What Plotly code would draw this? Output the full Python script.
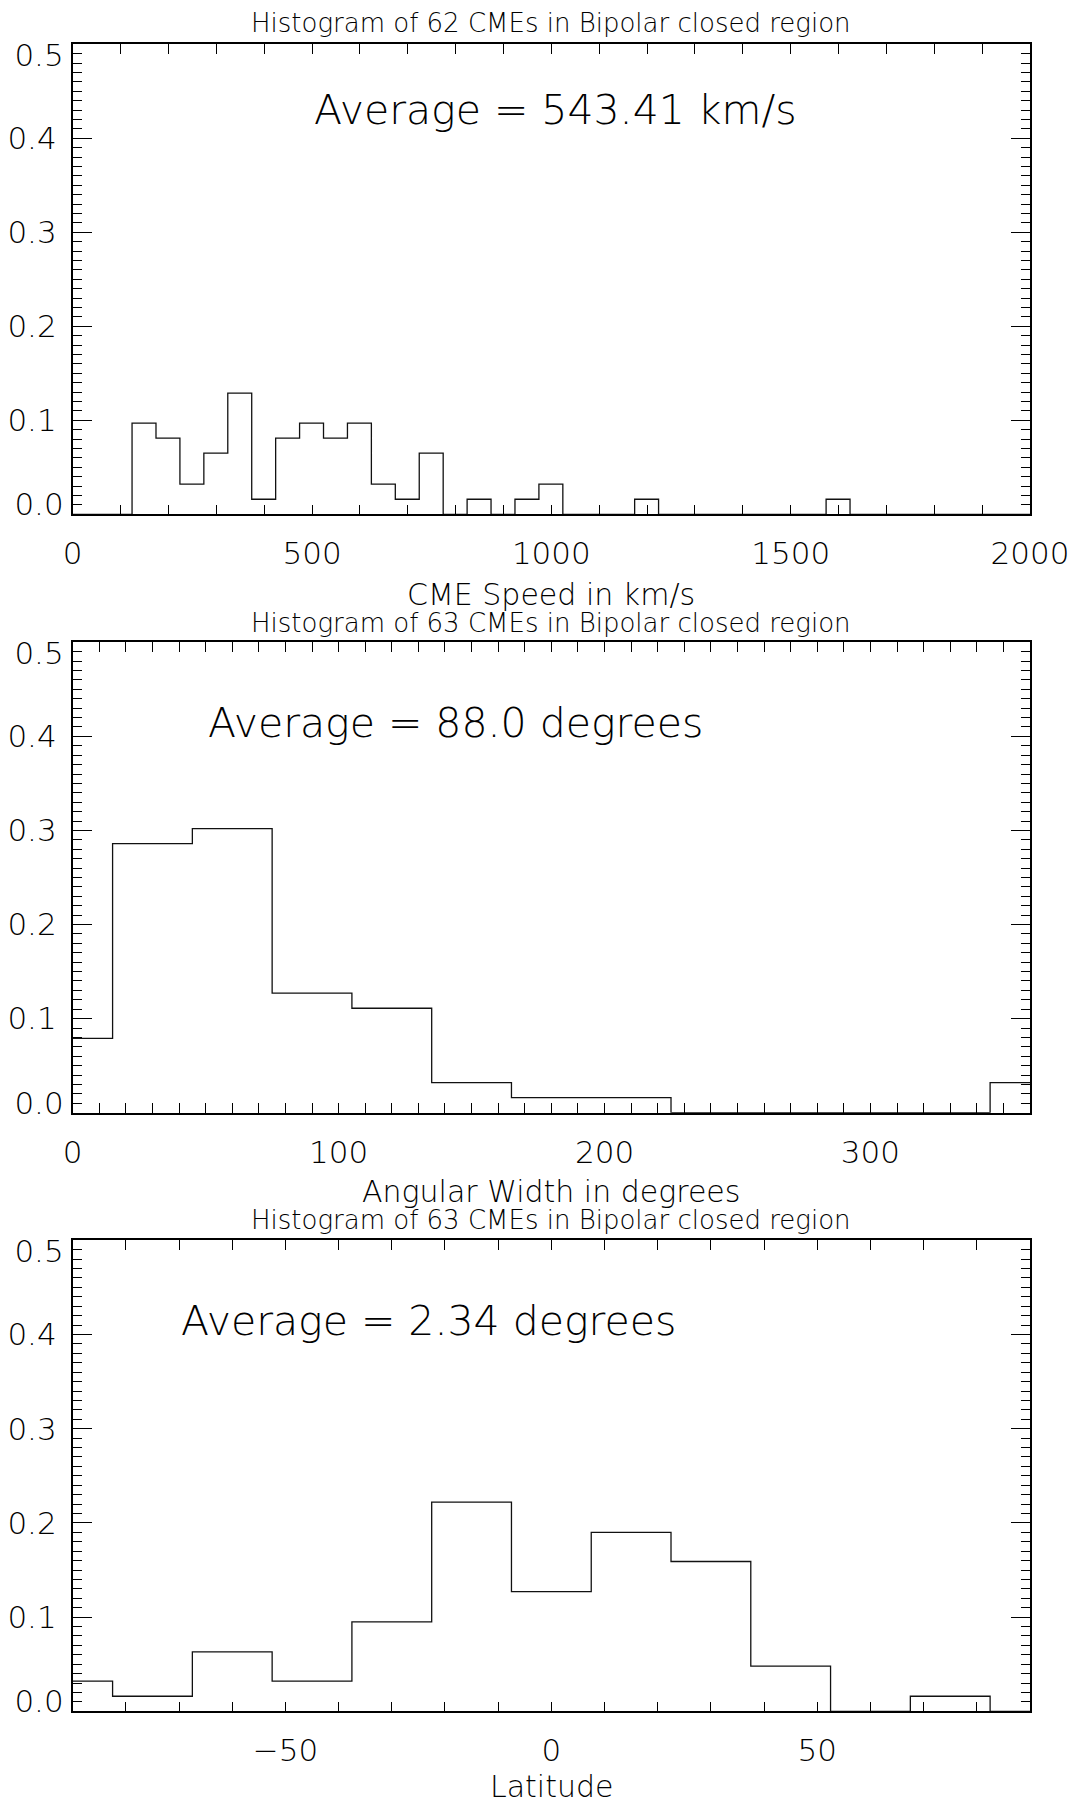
import plotly.graph_objects as go

W, H = 1076, 1806

# ---------------- data ----------------
# Panel 1: CME speed histogram (fraction of events per 50 km/s bin)
speed_bin_start = 124.0
speed_bin_width = 50.0
speed_frac = [0.097, 0.081, 0.032, 0.065, 0.129, 0.016, 0.081, 0.097, 0.081, 0.097,
              0.032, 0.016, 0.065, 0.0, 0.016, 0.0, 0.016, 0.032, 0.0, 0.0,
              0.0, 0.016, 0.0, 0.0, 0.0, 0.0, 0.0, 0.0, 0.0, 0.016]
speed_xrange = [0, 2000]
speed_xticks = [0, 500, 1000, 1500, 2000]
speed_minor = 100
speed_title = "Histogram of 62 CMEs in Bipolar closed region"
speed_xlabel = "CME Speed in km/s"
speed_avg = "Average = 543.41 km/s"
speed_avg_pos = [500, 0.430]

# Panel 2: angular width histogram (30 degree bins)
width_bin_start = -15.0
width_bin_width = 30.0
width_frac = [0.079, 0.286, 0.302, 0.127, 0.111, 0.032, 0.016, 0.016,
              0.0, 0.0, 0.0, 0.0, 0.032]
width_xrange = [0, 360]
width_xticks = [0, 100, 200, 300]
width_minor = 10
width_title = "Histogram of 63 CMEs in Bipolar closed region"
width_xlabel = "Angular Width in degrees"
width_avg = "Average = 88.0 degrees"
width_avg_pos = [50, 0.414]

# Panel 3: latitude histogram (15 degree bins)
lat_bin_start = -97.5
lat_bin_width = 15.0
lat_frac = [0.032, 0.016, 0.063, 0.032, 0.095, 0.222, 0.127, 0.190, 0.159,
            0.048, 0.0, 0.016, 0.0]
lat_xrange = [-90, 90]
lat_xticks = [-50, 0, 50]
lat_minor = 10
lat_title = "Histogram of 63 CMEs in Bipolar closed region"
lat_xlabel = "Latitude"
lat_avg = "Average = 2.34 degrees"
lat_avg_pos = [-70, 0.414]

y_range = [0, 0.5]
y_inner_ticks = [0.1, 0.2, 0.3, 0.4]

# ---------------- layout geometry ----------------
FONT = "DejaVu Sans"
X_DOM = [72.7 / W, 1030.0 / W]
panel_px = [(44.3, 514.3), (642.3, 1112.7), (1240.3, 1711.3)]   # (top, bottom) in px
title_px = [23, 623, 1220]
xlabel_px = [595, 1191, 1786]


def ydom(top, bot):
    return [1 - bot / H, 1 - top / H]


def step_xy(start, width, frac, xr):
    edges = [start + i * width for i in range(len(frac) + 1)]
    xs, ys = [], []
    if start > xr[0]:
        xs.append(xr[0]); ys.append(0.0)
    xs += edges
    ys += list(frac) + [0.0]
    if edges[-1] < xr[1]:
        xs.append(xr[1]); ys.append(0.0)
    return xs, ys


panels = [
    (speed_bin_start, speed_bin_width, speed_frac, speed_xrange, speed_xticks, speed_minor,
     speed_title, speed_xlabel, speed_avg, speed_avg_pos),
    (width_bin_start, width_bin_width, width_frac, width_xrange, width_xticks, width_minor,
     width_title, width_xlabel, width_avg, width_avg_pos),
    (lat_bin_start, lat_bin_width, lat_frac, lat_xrange, lat_xticks, lat_minor,
     lat_title, lat_xlabel, lat_avg, lat_avg_pos),
]

fig = go.Figure()
layout = dict(
    width=W, height=H,
    margin=dict(l=0, r=0, t=0, b=0, pad=0),
    paper_bgcolor="white", plot_bgcolor="white",
    showlegend=False,
    font=dict(family=FONT, color="black", size=30, weight=200),
)
annotations = []

TICKFONT = dict(family=FONT, size=31, color="black", weight=200)

for i, (bs, bw, fr, xr, xt, xminor, title, xlabel, avg, avgpos) in enumerate(panels):
    n = i + 1
    xa = "x" if n == 1 else f"x{n}"
    ya = "y" if n == 1 else f"y{n}"
    xs, ys = step_xy(bs, bw, fr, xr)
    fig.add_trace(go.Scatter(x=xs, y=ys, mode="lines", line_shape="hv",
                             line=dict(color="#111", width=1.3),
                             xaxis=xa, yaxis=ya, hoverinfo="skip"))
    top, bot = panel_px[i]
    dom = ydom(top, bot)
    layout[f"xaxis{'' if n == 1 else n}"] = dict(
        domain=X_DOM, anchor=ya, range=xr, automargin=False,
        tickvals=xt, ticks="inside", ticklen=10, tickwidth=1.2, tickcolor="black",
        minor=dict(dtick=xminor, tick0=0, ticks="inside", ticklen=4.5,
                   tickwidth=1.2, tickcolor="black", showgrid=False),
        showline=True, linecolor="black", linewidth=1.6, mirror="allticks",
        showgrid=False, zeroline=False, tickfont=TICKFONT, ticklabelstandoff=11,
        fixedrange=True,
    )
    layout[f"yaxis{'' if n == 1 else n}"] = dict(
        domain=dom, anchor=xa, range=y_range, automargin=False,
        tickvals=y_inner_ticks, tickformat=".1f",
        ticks="inside", ticklen=19, tickwidth=1.2, tickcolor="black",
        minor=dict(dtick=0.01, tick0=0, ticks="inside", ticklen=9,
                   tickwidth=1.2, tickcolor="black", showgrid=False),
        showline=True, linecolor="black", linewidth=1.6, mirror="allticks",
        showgrid=False, zeroline=False, tickfont=TICKFONT, ticklabelstandoff=8,
        fixedrange=True,
    )
    # end labels shifted inward (0.0 sits just above its tick, 0.5 just below)
    for k, (val, shift) in enumerate([(y_range[0], -10), (y_range[1], 11)]):
        idx = 3 + 2 * i + k + 1
        layout[f"yaxis{idx}"] = dict(
            overlaying=ya, anchor=xa, side="left", range=y_range, automargin=False,
            tickvals=[val], tickformat=".1f", ticks="", showline=False,
            showgrid=False, zeroline=False, ticklabelshift=shift,
            tickfont=TICKFONT, ticklabelstandoff=8, fixedrange=True,
        )
        fig.add_trace(go.Scatter(x=[xr[0]], y=[val], mode="markers",
                                 marker=dict(opacity=0), xaxis=xa, yaxis=f"y{idx}",
                                 hoverinfo="skip"))

    annotations.append(dict(text=title, xref="paper", yref="paper",
                            x=(X_DOM[0] + X_DOM[1]) / 2, y=1 - title_px[i] / H,
                            xanchor="center", yanchor="middle", showarrow=False,
                            borderpad=0,
                            font=dict(family=FONT, size=26, color="black", weight=200)))
    annotations.append(dict(text=xlabel, xref="paper", yref="paper",
                            x=(X_DOM[0] + X_DOM[1]) / 2, y=1 - xlabel_px[i] / H,
                            xanchor="center", yanchor="middle", showarrow=False,
                            borderpad=0,
                            font=dict(family=FONT, size=30, color="black", weight=200)))
    annotations.append(dict(text=avg, xref=xa, yref=ya,
                            x=avgpos[0], y=avgpos[1],
                            xanchor="left", yanchor="middle", showarrow=False,
                            font=dict(family=FONT, size=41, color="black", weight=200)))

layout["annotations"] = annotations
fig.update_layout(**layout)
fig.write_html("out.html")
